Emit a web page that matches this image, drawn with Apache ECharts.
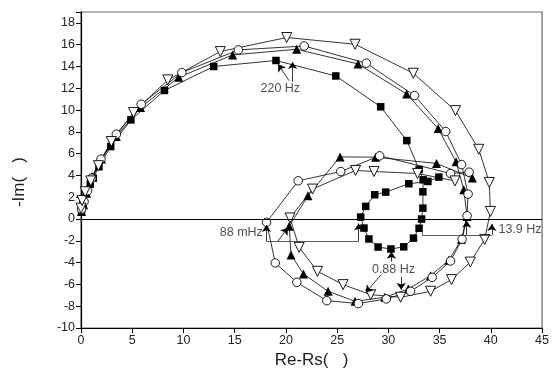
<!DOCTYPE html>
<html>
<head>
<meta charset="utf-8">
<script src="https://cdn.jsdelivr.net/npm/echarts@6/dist/echarts.min.js"></script>
<style>
  html, body { margin: 0; padding: 0; background: #fff; }
  #chart { width: 552px; height: 378px; }
</style>
</head>
<body>
<div id="chart"></div>
<script>
// data: [Re-Rs, -Im]
var squareData = [
  [0.05, 0.75], [0.2, 1.4], [0.5, 2.3], [0.9, 3.2], [1.2, 3.75], [1.75, 4.8],
  [2.9, 6.65], [4.87, 9.1], [8.15, 11.8], [12.95, 14.0], [19.03, 14.55],
  [24.87, 13.13], [29.25, 10.3], [31.8, 7.2], [33.0, 4.55], [33.4, 3.6],
  [33.37, 2.5], [33.37, 1.0], [33.24, 0.0], [33.0, -0.85], [32.45, -1.75],
  [31.5, -2.55], [30.25, -2.75], [29.0, -2.57], [28.1, -1.83], [27.62, -0.83],
  [27.3, 0.18], [27.79, 1.16], [28.67, 2.23], [29.74, 2.47], [32.0, 3.24],
  [33.86, 3.45], [34.93, 3.85]
];
var triUpData = [
  [0.05, 0.7], [0.25, 1.3], [0.55, 2.4], [1.07, 3.9], [2.0, 5.5], [3.45, 7.57],
  [5.81, 10.23], [9.54, 13.01], [14.8, 15.06], [21.05, 15.58], [27.04, 14.23],
  [31.78, 11.48], [34.86, 8.3], [36.61, 5.25], [37.36, 2.69], [37.68, 0.24],
  [37.14, -1.85], [35.9, -3.79], [34.12, -5.2], [31.94, -6.42], [29.64, -7.18],
  [26.75, -7.55], [24.12, -6.63], [21.71, -5.04], [20.5, -3.3], [20.32, -0.67],
  [22.15, 2.14], [25.29, 5.7], [28.76, 5.68], [34.7, 5.1], [38.2, 3.76]
];
var circleData = [
  [0.05, 0.9], [0.3, 1.6], [0.65, 2.6], [1.05, 3.75], [1.95, 5.5], [3.45, 7.79],
  [5.88, 10.54], [9.84, 13.44], [15.36, 15.52], [21.78, 15.88], [27.85, 14.3],
  [32.56, 11.33], [35.6, 8.03], [37.15, 5.0], [37.78, 2.29], [37.68, 0.3],
  [37.2, -1.85], [36.07, -3.85], [34.28, -5.35], [32.17, -6.63], [29.8, -7.33],
  [27.07, -7.76], [23.99, -7.49], [21.07, -5.81], [18.96, -4.03], [18.11, -0.3],
  [21.2, 3.51], [25.35, 4.36], [29.15, 5.8], [36.07, 4.18], [37.88, 4.3]
];
var triDownData = [
  [0.0, 1.0], [0.1, 1.7], [0.4, 2.5], [0.95, 3.5], [1.7, 4.9], [2.96, 7.11],
  [5.13, 9.77], [8.47, 12.77], [13.6, 15.37], [20.08, 16.66], [26.75, 16.04],
  [32.43, 13.38], [36.55, 9.95], [38.82, 6.4], [39.85, 3.36], [39.96, 0.7],
  [39.4, -1.87], [38.0, -3.95], [36.16, -5.56], [34.12, -6.63], [31.2, -7.18],
  [28.28, -6.94], [25.58, -6.02], [23.08, -4.8], [21.29, -2.6], [20.4, 0.1],
  [22.6, 2.75], [26.8, 4.46], [28.6, 4.36], [32.85, 4.18], [36.5, 3.5]
];

// frequency notes
var noteText = ["220 Hz", "88 mHz", "13.9 Hz", "0.88 Hz"];
var noteAt = [[19.45, 12.0], [17.8, -1.28], [40.7, -1.0], [30.5, -4.6]];
// arrows [from, to]
var arrowLines = [
  [[20.3, 12.7], [19.25, 14.2]],
  [[20.65, 12.6], [20.65, 14.4]],
  [[18.1, -2.05], [18.1, -0.55]],
  [[27.1, -2.05], [27.1, -0.4]],
  [[19.2, -2.05], [20.2, -0.8]],
  [[37.65, -1.45], [37.65, -0.15]],
  [[40.1, -1.45], [40.1, -0.45]],
  [[30.3, -3.9], [30.3, -3.0]],
  [[29.3, -5.1], [27.8, -6.75]],
  [[31.25, -5.3], [31.25, -6.5]]
];
var plainLines = [
  [[18.1, -2.05], [27.1, -2.05]],
  [[33.3, -1.45], [40.1, -1.45]],
  [[33.3, -1.45], [33.3, -0.7]]
];

var dom = document.getElementById("chart");
var myChart = echarts.init(dom);

function pairs(list, arrow) {
  return list.map(function (l) {
    return [{ coord: l[0], symbol: "none" }, { coord: l[1], symbol: arrow ? "arrow" : "none" }];
  });
}

var lineBase = {
  type: "line",
  lineStyle: { color: "#000", width: 0.8 },
  symbolSize: 8,
  z: 3
};

var option = {
  animation: false,
  grid: {
    left: 81,
    right: 9,
    top: 12,
    bottom: 50,
    show: true,
    borderColor: "#666",
    borderWidth: 1.2
  },
  graphic: [{
    type: "text",
    left: 11,
    top: 157,
    rotation: Math.PI / 2,
    style: { text: "-Im(   )", fontSize: 17, fill: "#222", fontFamily: "Liberation Sans" }
  }],
  xAxis: {
    type: "value",
    min: 0,
    max: 45,
    interval: 5,
    name: "Re-Rs(   )",
    nameLocation: "middle",
    nameGap: 22,
    nameTextStyle: { fontSize: 17, color: "#222", fontFamily: "Liberation Sans" },
    axisLine: { onZero: false, lineStyle: { color: "#000", width: 1.2 } },
    axisTick: { length: 5, lineStyle: { color: "#000" } },
    axisLabel: { fontSize: 12.5, color: "#222", margin: 6, fontFamily: "Liberation Sans" },
    splitLine: { show: false }
  },
  yAxis: {
    type: "value",
    min: -10,
    max: 19,
    interval: 2,
    axisLine: { onZero: false, lineStyle: { color: "#000", width: 1.2 } },
    axisTick: { length: 5, lineStyle: { color: "#000" } },
    axisLabel: {
      fontSize: 12.5, color: "#222", margin: 6, fontFamily: "Liberation Sans",
      formatter: function (v) { return v > 18 ? "" : v; }
    },
    splitLine: { show: false }
  },
  series: [
    Object.assign({}, lineBase, {
      name: "square",
      data: squareData,
      symbol: "rect",
      symbolSize: 7.5,
      itemStyle: { color: "#000" },
      markLine: {
        silent: true,
        symbol: ["none", "arrow"],
        symbolSize: 7,
        label: { show: false },
        lineStyle: { color: "#000", width: 0.8, type: "solid" },
        data: pairs(arrowLines, true)
      }
    }),
    Object.assign({}, lineBase, {
      name: "triUp",
      data: triUpData,
      symbol: "triangle",
      symbolSize: 9,
      itemStyle: { color: "#000" },
      markLine: {
        silent: true,
        symbol: "none",
        label: { show: false },
        lineStyle: { color: "#000", width: 1.2, type: "solid" },
        data: [{ yAxis: 0 }]
      }
    }),
    Object.assign({}, lineBase, {
      name: "circle",
      data: circleData,
      symbol: "circle",
      symbolSize: 8.5,
      itemStyle: { color: "#fff", borderColor: "#000", borderWidth: 0.9 },
      markLine: {
        silent: true,
        symbol: "none",
        label: { show: false },
        lineStyle: { color: "#333", width: 0.8, type: "solid" },
        data: pairs(plainLines, false)
      }
    }),
    Object.assign({}, lineBase, {
      name: "triDown",
      data: triDownData,
      symbol: "triangle",
      symbolRotate: 180,
      symbolSize: 10,
      itemStyle: { color: "#fff", borderColor: "#000", borderWidth: 0.9 }
    }),
    {
      type: "scatter",
      name: "notes",
      silent: true,
      symbolSize: 1,
      itemStyle: { color: "rgba(0,0,0,0)" },
      data: noteText.map(function (t, i) {
        return {
          value: noteAt[i],
          name: t,
          label: {
            show: true,
            formatter: t,
            position: i === 1 ? "left" : (i === 2 ? "right" : "inside"),
            distance: 0,
            fontSize: 12.5,
            color: "#222",
            fontFamily: "Liberation Sans"
          }
        };
      }),
      z: 5
    }
  ]
};
myChart.setOption(option, true);
</script>
</body>
</html>
